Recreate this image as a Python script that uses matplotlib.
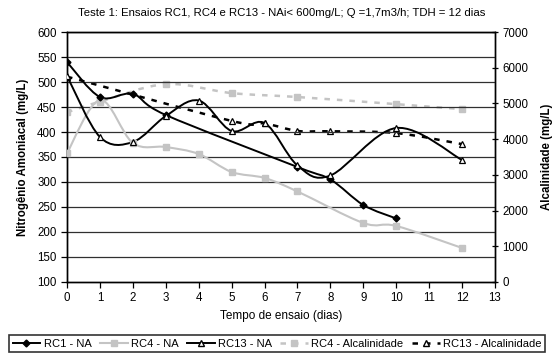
import numpy as np
import matplotlib
matplotlib.use("Agg")
import matplotlib.pyplot as plt
from matplotlib.path import Path
from matplotlib.patches import PathPatch
from matplotlib.lines import Line2D

plt.rcParams['font.family'] = ['Liberation Sans', 'DejaVu Sans']

# valores
rc1_dias = [0, 1, 2, 3, 7, 8, 9, 10]
rc1_na = [540, 470, 476, 434, 330, 305, 254, 227]

rc4_dias = [0, 1, 2, 3, 4, 5, 6, 7, 9, 10, 12]
rc4_na = [358, 464, 378, 370, 356, 320, 308, 281, 218, 212, 168]

rc13_dias = [0, 1, 2, 3, 4, 5, 6, 7, 8, 10, 12]
rc13_na = [512, 390, 380, 432, 463, 402, 418, 333, 313, 408, 344]

rc4_alk_dias = [0, 1, 3, 5, 7, 10, 12]
rc4_alk = [4750, 5050, 5540, 5290, 5180, 4980, 4840]

rc13_alk_dias = [0, 5, 6, 7, 8, 10, 12]
rc13_alk = [5750, 4510, 4440, 4230, 4220, 4170, 3860]

titulo = "Teste 1: Ensaios RC1, RC4 e RC13 - NAi< 600mg/L; Q =1,7m3/h; TDH = 12 dias"

PRETO = "black"
CINZA = "#c4c4c4"


def curva_suave(x, y):
    # bezier estilo excel (catmull-rom)
    x = np.asarray(x, float)
    y = np.asarray(y, float)
    verts = [(x[0], y[0])]
    codes = [Path.MOVETO]
    n = len(x)
    for i in range(n - 1):
        x0, y0 = (x[i - 1], y[i - 1]) if i > 0 else (x[i], y[i])
        x3, y3 = (x[i + 2], y[i + 2]) if i + 2 < n else (x[i + 1], y[i + 1])
        c1 = (x[i] + (x[i + 1] - x0) / 6, y[i] + (y[i + 1] - y0) / 6)
        c2 = (x[i + 1] - (x3 - x[i]) / 6, y[i + 1] - (y3 - y[i]) / 6)
        verts += [c1, c2, (x[i + 1], y[i + 1])]
        codes += [Path.CURVE4] * 3
    return Path(verts, codes)


def serie(ax, x, y, cor, ls, lw, **mk):
    ax.add_patch(PathPatch(curva_suave(x, y), fill=False, edgecolor=cor,
                           linestyle=ls, linewidth=lw, zorder=3))
    ax.plot(x, y, linestyle='none', zorder=4, **mk)


fig = plt.figure(figsize=(5.54, 3.56), dpi=100)
ax = fig.add_axes([0.121, 0.208, 0.7725, 0.702])
ax2 = ax.twinx()

ax.set_xlim(0, 13)
ax.set_ylim(100, 600)
ax2.set_ylim(0, 7000)
ax.set_xticks(range(0, 14))
ax.set_yticks(range(100, 601, 50))
ax2.set_yticks(range(0, 7001, 1000))

for v in range(150, 601, 50):
    ax.axhline(v, color="#303030", lw=0.9, zorder=1)

tracejado = (0, (2.2, 2.8))

serie(ax2, rc4_alk_dias, rc4_alk, CINZA, tracejado, 1.8,
      marker='s', ms=4, color=CINZA)
serie(ax2, rc13_alk_dias, rc13_alk, PRETO, tracejado, 1.8,
      marker='^', ms=5, mfc='white', mec=PRETO, mew=0.9)
serie(ax, rc4_dias, rc4_na, CINZA, '-', 1.5,
      marker='s', ms=4, color=CINZA)
serie(ax, rc1_dias, rc1_na, PRETO, '-', 1.4,
      marker='D', ms=3.5, color=PRETO)
serie(ax, rc13_dias, rc13_na, PRETO, '-', 1.4,
      marker='^', ms=5, mfc='white', mec=PRETO, mew=0.9)

ax.set_zorder(ax2.get_zorder() + 1)
ax.patch.set_visible(False)

for a in (ax, ax2):
    for s in a.spines.values():
        s.set_color('black')
        s.set_linewidth(1.0)

ax.tick_params(axis='both', labelsize=8.3, length=4, width=0.9, direction='out', color='black')
ax2.tick_params(axis='y', labelsize=8.3, length=4, width=0.9, direction='inout', color='black')

ax.set_ylabel("Nitrogênio Amoniacal (mg/L)", fontsize=8.3, fontweight='bold', labelpad=6)
ax2.set_ylabel("Alcalinidade (mg/L)", fontsize=8.3, fontweight='bold', labelpad=9, rotation=90)
ax.set_xlabel("Tempo de ensaio (dias)", fontsize=8.5, labelpad=4)
fig.text(0.509, 0.963, titulo, ha='center', va='center', fontsize=8.2)

handles = [
    Line2D([], [], color=PRETO, lw=1.4, marker='D', ms=3.5),
    Line2D([], [], color=CINZA, lw=1.5, marker='s', ms=4),
    Line2D([], [], color=PRETO, lw=1.4, marker='^', ms=5, mfc='white', mec=PRETO),
    Line2D([], [], color=CINZA, lw=1.8, ls=tracejado, marker='s', ms=4),
    Line2D([], [], color=PRETO, lw=1.8, ls=tracejado, marker='^', ms=5, mfc='white', mec=PRETO),
]
nomes = ["RC1 - NA", "RC4 - NA", "RC13 - NA", "RC4 - Alcalinidade", "RC13 - Alcalinidade"]
leg = fig.legend(handles, nomes, loc='lower center', bbox_to_anchor=(0.5, 0.005), ncol=5,
                 fontsize=8, frameon=True, fancybox=False, handlelength=2.5,
                 handletextpad=0.3, columnspacing=0.75, borderpad=0.3, borderaxespad=0.2)
leg.get_frame().set_edgecolor('black')
leg.get_frame().set_linewidth(1.2)

fig.savefig("out.png", dpi=100)
